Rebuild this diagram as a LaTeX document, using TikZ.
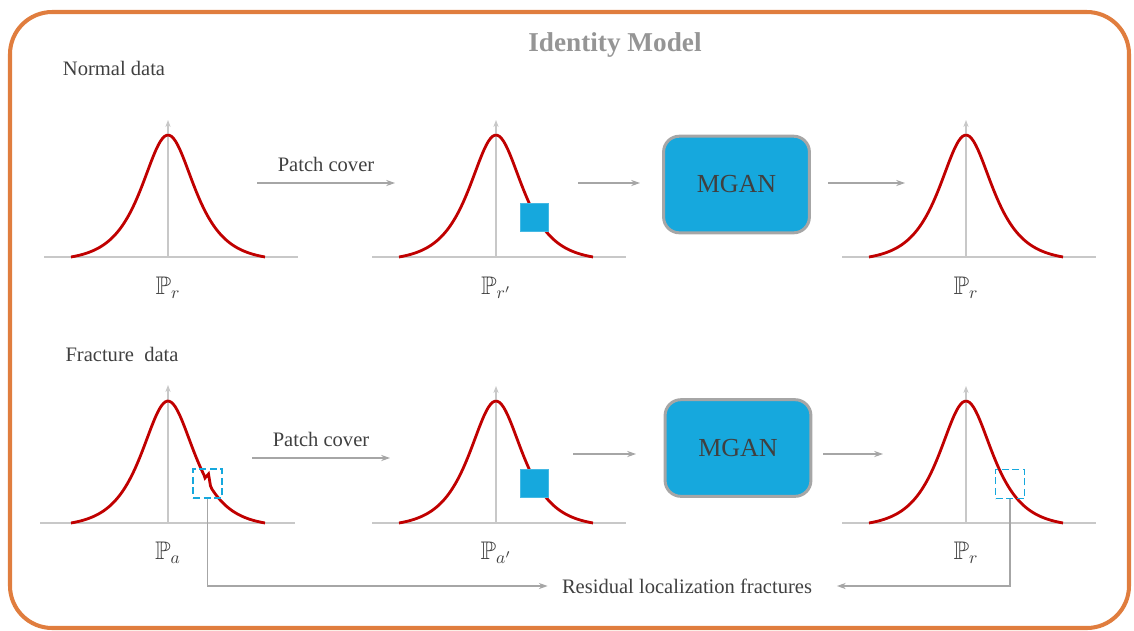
\documentclass[tikz,border=0pt]{standalone}
\usepackage{amssymb}
\usepackage{fontspec}
\setmainfont{Liberation Serif}
\usepackage{tikz}
\usetikzlibrary{arrows.meta}
\definecolor{ourorange}{HTML}{E07D3E}
\definecolor{ourblue}{HTML}{16A8DD}
\definecolor{ourred}{HTML}{C00000}
\definecolor{ourgray}{HTML}{A6A6A6}
\definecolor{ouraxis}{HTML}{C8C8C8}
\definecolor{ourtext}{HTML}{404040}

% one bell curve with its axes, baseline centre at (#1,#2)
\newcommand{\bellcurve}[2]{%
  \begin{scope}[shift={(#1,#2)}]
    \draw[axis] (-124,0) -- (130,0);
    \draw[axis,-{Stealth[length=4pt,width=3pt]}] (0,0) -- (0,-137);
    \draw[curve] plot[domain=-97:97,samples=90,smooth]
      (\x,{-122*(1/cosh(\x/23.5)-0.032)/0.968});
  \end{scope}}

\begin{document}
\begin{tikzpicture}[x=0.02cm,y=-0.02cm]

  \tikzstyle{axis}=[draw=ouraxis,line width=0.6pt]
  \tikzstyle{curve}=[draw=ourred,line width=1.6pt]
  \tikzstyle{arr}=[draw=ourgray,line width=0.6pt,-{Stealth[length=5pt,width=3.5pt]}]
  \tikzstyle{txt}=[text=ourtext,font=\fontsize{11.7}{14}\selectfont]
  \tikzstyle{plabel}=[text=ourtext,font=\fontsize{14.5}{16}\selectfont]
  \tikzstyle{mgan}=[draw=ourgray,line width=1.7pt,fill=ourblue,rounded corners=9pt,
    minimum width=83pt,minimum height=55pt,text=ourtext,font=\fontsize{14.8}{16}\selectfont]
  \tikzstyle{patch}=[fill=ourblue,draw=ourblue!80!white,minimum size=16pt,inner sep=0]
  \tikzstyle{dashbox}=[draw=ourblue,dash pattern=on 4pt off 2pt,line width=1.1pt,
    minimum size=16.5pt,inner sep=0]

  \useasboundingbox (0,0) rectangle (1134,630);
  \draw[ourorange,line width=2.3pt,rounded corners=24pt] (10,12) rectangle (1129,628);

  \node[text=ourgray!90!black,font=\bfseries\fontsize{15.5}{18}\selectfont] (title) at (615,45) {Identity Model};
  \node[txt] (normal) at (114,68) {Normal data};
  \node[txt] (fracture) at (122,354) {Fracture\ \ data};

  % normal data row
  \bellcurve{168}{257}
  \bellcurve{496}{257}
  \bellcurve{966}{257}
  \node[patch] (pr) at (534.5,217) {};

  \path
  (168,288) node[plabel](p1){$\mathbb{P}_{r}$}
  (496,288) node[plabel](p2){$\mathbb{P}_{r'}$}
  (966,288) node[plabel](p3){$\mathbb{P}_{r}$};

  \node[mgan] (m1) at (736.5,184.5) {MGAN};

  \coordinate (a1s) at (257,183);
  \coordinate (a1e) at (395,183);
  \coordinate (a2s) at (578,183);
  \coordinate (a2e) at (640,183);
  \coordinate (a3s) at (828,183);
  \coordinate (a3e) at (905,183);
  \draw[arr] (a1s) -- node[txt,above=3pt]{Patch cover} (a1e);
  \draw[arr] (a2s) -- (a2e);
  \draw[arr] (a3s) -- (a3e);

  % fracture data row
  \begin{scope}[shift={(168,523)}]
    \draw[axis] (-128,0) -- (127,0);
    \draw[axis,-{Stealth[length=4pt,width=3pt]}] (0,0) -- (0,-138);
    \draw[curve] plot[domain=-97:36,samples=70,smooth]
      (\x,{-122*(1/cosh(\x/23.5)-0.032)/0.968})
      -- (37,-45) -- (40.5,-49) -- (42.5,-37)
      -- plot[domain=44:97,samples=30,smooth]
      (\x,{-122*(1/cosh(\x/23.5)-0.032)/0.968});
  \end{scope}
  \bellcurve{496}{523}
  \bellcurve{966}{523}
  \node[dashbox] (fa) at (207.5,483.5) {};
  \node[dashbox] (fr) at (1010,484) {};
  \node[patch] (pa) at (534,483.5) {};

  \path
  (168,553) node[plabel](q1){$\mathbb{P}_{a}$}
  (496,553) node[plabel](q2){$\mathbb{P}_{a'}$}
  (966,553) node[plabel](q3){$\mathbb{P}_{r}$};

  \node[mgan] (m2) at (738,448) {MGAN};

  \coordinate (b1s) at (252,458);
  \coordinate (b1e) at (390,458);
  \coordinate (b2s) at (573,454);
  \coordinate (b2e) at (636,454);
  \coordinate (b3s) at (823,454);
  \coordinate (b3e) at (883,454);
  \draw[arr] (b1s) -- node[txt,above=3pt]{Patch cover} (b1e);
  \draw[arr] (b2s) -- (b2e);
  \draw[arr] (b3s) -- (b3e);

  \node[txt,inner sep=0] (res) at (687,586) {Residual localization fractures};
  \draw[arr,shorten >=8pt] (fa.south) |- (res.west);
  \draw[arr,shorten >=14pt] (fr.south) |- (res.east);
\end{tikzpicture}
\end{document}
